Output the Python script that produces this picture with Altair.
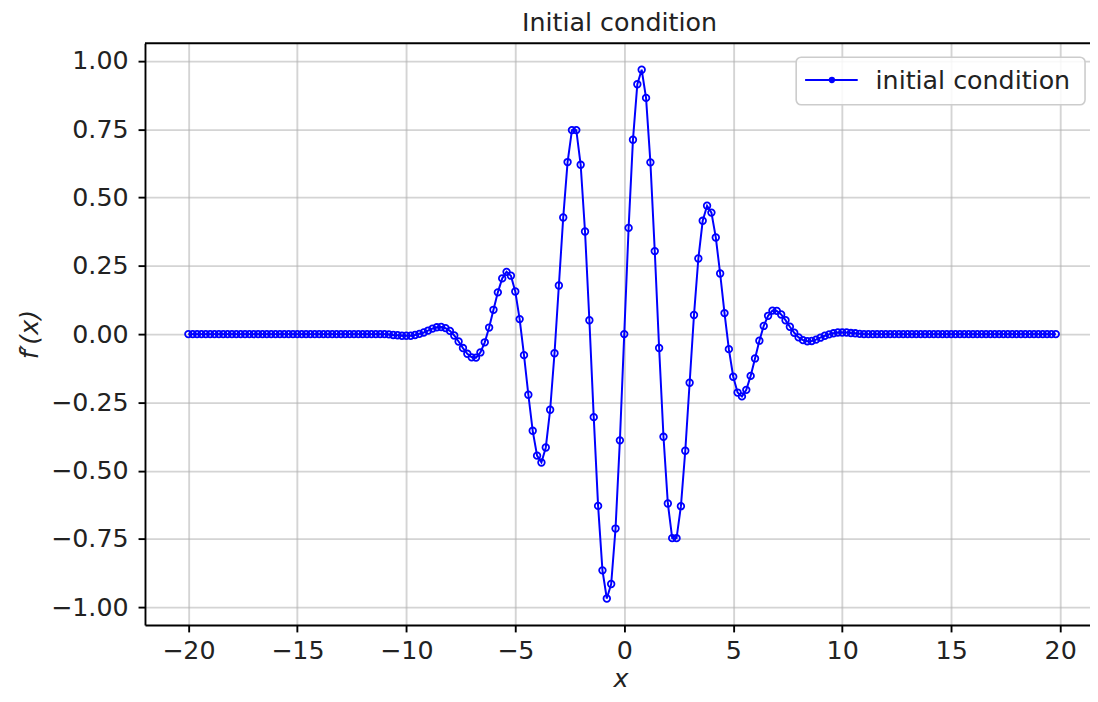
import altair as alt
import pandas as pd

x_values = [round(-20 + 0.2 * i, 1) for i in range(200)]

# x = -20.0 ... -11.0
left_tail = [
    0.0, 0.0, 0.0, 0.0, 0.0, 0.0, 0.0, 0.0, 0.0, 0.0,
    0.0, 0.0, 0.0, 0.0, 0.0, 0.0, 0.0, 0.0, 0.0, 0.0,
    0.0, 0.0, 0.0, 0.0, 0.0, 0.0, 0.0, 0.0, 0.0, 0.0,
    0.0, 0.0, 0.0, 0.0, 0.0, 0.0, 0.0, 0.0, 0.0, 0.0,
    0.0, 0.0, 0.0, 0.0, 0.0, 0.0,
]

# x = -10.8 ... 10.8
center = [
    -0.001, -0.003, -0.004, -0.006, -0.006, -0.006, -0.003, 0.001, 0.006, 0.013,
    0.020, 0.025, 0.026, 0.022, 0.012, -0.005, -0.027, -0.051, -0.072, -0.085,
    -0.086, -0.067, -0.030, 0.024, 0.089, 0.153, 0.204, 0.228, 0.214, 0.156,
    0.055, -0.077, -0.222, -0.354, -0.445, -0.470, -0.415, -0.277, -0.070, 0.178,
    0.427, 0.630, 0.747, 0.747, 0.620, 0.376, 0.051, -0.304, -0.629, -0.865,
    -0.968, -0.915, -0.712, -0.389,
    0.0,
    0.389, 0.712, 0.915, 0.968, 0.865, 0.629, 0.304, -0.051, -0.376, -0.620,
    -0.747, -0.747, -0.630, -0.427, -0.178, 0.070, 0.277, 0.415, 0.470, 0.445,
    0.354, 0.222, 0.077, -0.055, -0.156, -0.214, -0.228, -0.204, -0.153, -0.089,
    -0.024, 0.030, 0.067, 0.086, 0.085, 0.072, 0.051, 0.027, 0.005, -0.012,
    -0.022, -0.026, -0.025, -0.020, -0.013, -0.006, -0.001, 0.003, 0.006, 0.006,
    0.006, 0.004, 0.003, 0.001,
]

# x = 11.0 ... 19.8
right_tail = [
    0.0, 0.0, 0.0, 0.0, 0.0, 0.0, 0.0, 0.0, 0.0, 0.0,
    0.0, 0.0, 0.0, 0.0, 0.0, 0.0, 0.0, 0.0, 0.0, 0.0,
    0.0, 0.0, 0.0, 0.0, 0.0, 0.0, 0.0, 0.0, 0.0, 0.0,
    0.0, 0.0, 0.0, 0.0, 0.0, 0.0, 0.0, 0.0, 0.0, 0.0,
    0.0, 0.0, 0.0, 0.0, 0.0,
]

y_values = left_tail + center + right_tail
series_name = "initial condition"
chart_title = "Initial condition"
x_ticks = [-20, -15, -10, -5, 0, 5, 10, 15, 20]
y_ticks = [-1.0, -0.75, -0.5, -0.25, 0.0, 0.25, 0.5, 0.75, 1.0]

df = pd.DataFrame({"x": x_values, "y": y_values})
legend_df = pd.DataFrame({"label": [series_name], "title": [chart_title]})

FONT = "DejaVu Sans"
BLUE = "#0000ff"
TXT = "#222222"
FS = 25.5
W, H = 952, 586

x_enc = alt.X(
    "x:Q",
    scale=alt.Scale(domain=[-21.99, 21.37], nice=False, zero=False),
    axis=alt.Axis(
        values=x_ticks, format="d", title="x",
        titleX=479, titleY=54, titleBaseline="middle", titleAlign="center",
    ),
)
y_enc = alt.Y(
    "y:Q",
    scale=alt.Scale(domain=[-1.065, 1.065], nice=False, zero=False),
    axis=alt.Axis(
        values=y_ticks, format=".2f", title="f\u2032(x)",
        titleX=-116, titleY=H / 2, titleAngle=270, titleBaseline="middle", titleAlign="center",
    ),
)

line = alt.Chart(df).mark_line(strokeWidth=2, color=BLUE).encode(x=x_enc, y=y_enc)

points = alt.Chart(df).mark_point(
    shape="circle", filled=False, size=44, strokeWidth=1.8, color=BLUE, opacity=1
).encode(x="x:Q", y="y:Q")

top_spine = alt.Chart(legend_df).mark_rule(color="#000000", strokeWidth=1.9).encode(
    x=alt.value(0), x2=alt.value(W), y=alt.value(0)
)

# chart title above the plot area
title_text = alt.Chart(legend_df).mark_text(
    align="center", baseline="alphabetic", font=FONT, fontSize=FS, color=TXT
).encode(x=alt.value(478), y=alt.value(-12), text="title:N")

# legend (upper right, matplotlib style)
leg_box = alt.Chart(legend_df).mark_rect(
    fill="white", fillOpacity=0.85, stroke="#cccccc", strokeWidth=1.6, cornerRadius=5
).encode(x=alt.value(656), x2=alt.value(947), y=alt.value(14), y2=alt.value(62))
leg_line = alt.Chart(legend_df).mark_rule(color=BLUE, strokeWidth=2).encode(
    x=alt.value(665), x2=alt.value(718), y=alt.value(37)
)
leg_marker = alt.Chart(legend_df).mark_point(
    shape="circle", filled=True, size=40, color=BLUE, opacity=1
).encode(x=alt.value(692), y=alt.value(37))
leg_text = alt.Chart(legend_df).mark_text(
    align="left", baseline="middle", font=FONT, fontSize=FS, color=TXT
).encode(x=alt.value(736), y=alt.value(38), text="label:N")

chart = (
    alt.layer(line, points, top_spine, title_text, leg_box, leg_line, leg_marker, leg_text)
    .properties(
        width=W,
        height=H,
        autosize=alt.AutoSizeParams(type="none"),
        padding={"left": 138, "top": 33, "right": 0, "bottom": 67},
    )
    .configure_view(stroke=None)
    .configure_axis(
        labelFont=FONT, labelFontSize=FS, labelColor=TXT,
        titleFont=FONT, titleFontSize=FS, titleFontStyle="italic", titleFontWeight="normal",
        titleColor=TXT,
        domainColor="#000000", domainWidth=1.9,
        tickColor="#000000", tickWidth=1.9, tickSize=7,
        grid=True, gridColor="#b0b0b0", gridOpacity=0.55, gridWidth=1.9,
    )
    .configure_axisX(labelPadding=7)
    .configure_axisY(labelPadding=10)
)

chart.save("out.html", embed_options={"renderer": "svg", "actions": False})
